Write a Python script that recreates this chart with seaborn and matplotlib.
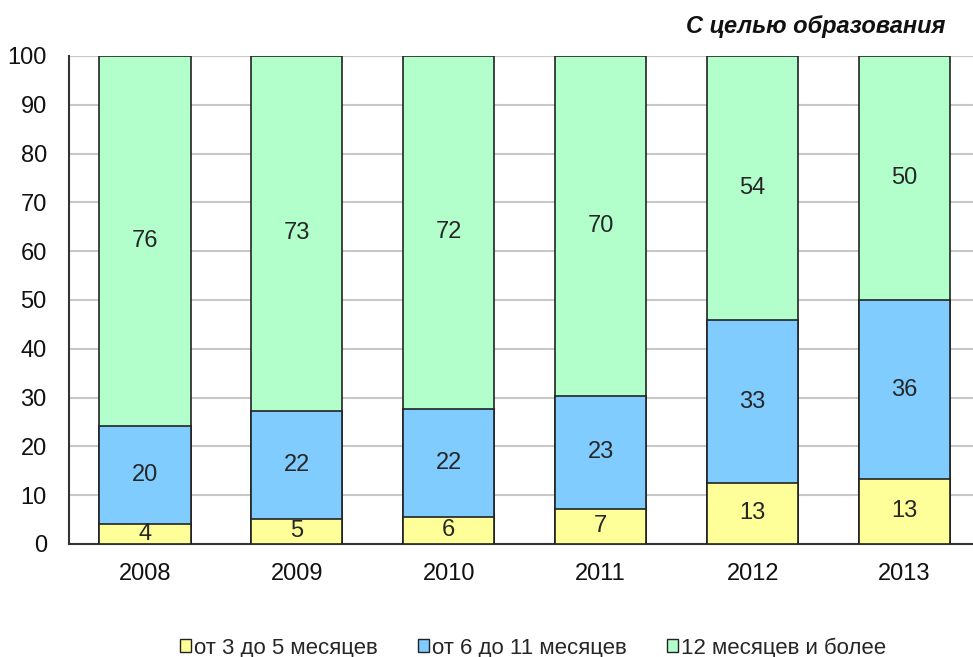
import matplotlib
matplotlib.use("Agg")
import matplotlib.pyplot as plt
from matplotlib.patches import Patch
import seaborn as sns
import pandas as pd
import numpy as np

# --- dane ---
years = ['2008', '2009', '2010', '2011', '2012', '2013']
short_term = [4.1, 5.2, 5.6, 7.2, 12.6, 13.4]      # от 3 до 5 месяцев
mid_term = [20.1, 22.1, 22.1, 23.1, 33.2, 36.5]    # от 6 до 11 месяцев
long_term = [75.8, 72.7, 72.3, 69.7, 54.2, 50.1]   # 12 месяцев и более
short_labels = [4, 5, 6, 7, 13, 13]
mid_labels = [20, 22, 22, 23, 33, 36]
long_labels = [76, 73, 72, 70, 54, 50]
series_names = ['от 3 до 5 месяцев', 'от 6 до 11 месяцев', '12 месяцев и более']
colors = ['#FFFF99', '#80CCFF', '#B3FFCC']

df = pd.DataFrame({'year': years, 's': short_term, 'm': mid_term, 'l': long_term})
df['cum_s'] = df['s']
df['cum_m'] = df['s'] + df['m']
df['cum_l'] = df['cum_m'] + df['l']

sns.set_style("white")
plt.rcParams['font.family'] = ['Liberation Sans', 'DejaVu Sans']

fig = plt.figure(figsize=(9.73, 6.57), dpi=100)
ax = fig.add_axes([69 / 973, 1 - 544 / 657, (980.5 - 69) / 973, (544 - 56) / 657])

# stacked bars drawn back to front (cumulative heights)
for col, c in zip(['cum_l', 'cum_m', 'cum_s'], colors[::-1]):
    sns.barplot(data=df, x='year', y=col, color=c, saturation=1, width=0.6,
                edgecolor='#222222', linewidth=1.2, ax=ax, zorder=3)

# подписи значений
fs = 17
x = np.arange(len(years))
for i in range(len(years)):
    ax.text(x[i], df['s'][i] / 2, str(short_labels[i]), ha='center', va='center', fontsize=fs, zorder=5)
    ax.text(x[i], df['s'][i] + df['m'][i] / 2, str(mid_labels[i]), ha='center', va='center', fontsize=fs, zorder=5)
    ax.text(x[i], df['cum_m'][i] + df['l'][i] / 2, str(long_labels[i]), ha='center', va='center', fontsize=fs, zorder=5)

ax.set_ylim(0, 100)
ax.set_xlim(-0.5, len(years) - 0.5)
ax.set_yticks(range(0, 101, 10))
ax.yaxis.grid(True, color='#c8c8c8', linewidth=1.5, zorder=0)
ax.set_axisbelow(True)
ax.set_xlabel('')
ax.set_ylabel('')
ax.tick_params(axis='both', length=0, labelsize=fs, colors='#111111')
ax.tick_params(axis='x', pad=14)
ax.tick_params(axis='y', pad=16)
for s in ['top', 'right']:
    ax.spines[s].set_visible(False)
ax.spines['left'].set_color('#333333')
ax.spines['bottom'].set_color('#333333')
ax.spines['left'].set_linewidth(1.5)
ax.spines['bottom'].set_linewidth(1.5)

fig.text(945 / 973, 1 - 26 / 657, 'С целью образования', ha='right', va='center',
         fontsize=17, fontweight='bold', style='italic', color='#111111')

handles = [Patch(facecolor=c, edgecolor='#222222', linewidth=1.0) for c in colors]
fig.legend(handles, series_names, loc='center', bbox_to_anchor=(533 / 973, 1 - 648 / 657),
           ncol=3, frameon=False, fontsize=16, handlelength=0.5, handleheight=0.5,
           handletextpad=0.15, columnspacing=1.8)

fig.savefig('out.png', dpi=100)
